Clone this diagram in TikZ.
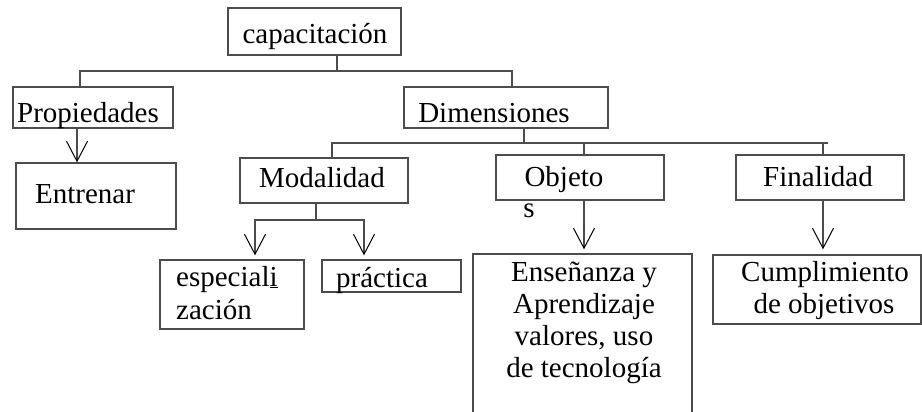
\documentclass[tikz,border=0pt]{standalone}
\usepackage{fontspec}
\setmainfont{Liberation Serif}
\usetikzlibrary{arrows.meta}

\begin{document}
\begin{tikzpicture}[x=1pt, y=-1pt, font=\fontsize{29}{32}\selectfont,
	caja/.style={draw=black!70, line width=1.4pt, inner sep=0pt},
	linea/.style={draw=black!70, line width=1.4pt},
	flecha/.style={linea, -{Straight Barb[length=20pt, width=21pt, line width=1pt, color=black]}},
	texto/.style={anchor=base, inner sep=0pt}]
	\useasboundingbox (0,0) rectangle (922,412);
	\clip (0,0) rectangle (922,412);
	% cajas
	\node[caja, minimum width=173, minimum height=47] (cap) at (314.5,31.5) {};
	\node[caja, minimum width=160, minimum height=41] (prop) at (93,107.5) {};
	\node[caja, minimum width=204, minimum height=41] (dim) at (506,107.5) {};
	\node[caja, minimum width=160, minimum height=66] (entr) at (96,196) {};
	\node[caja, minimum width=168, minimum height=45] (moda) at (324,180.5) {};
	\node[caja, minimum width=168, minimum height=45] (obj) at (580,177.5) {};
	\node[caja, minimum width=168, minimum height=45] (fin) at (820,177.5) {};
	\node[caja, minimum width=144, minimum height=69] (espe) at (232,294.5) {};
	\node[caja, minimum width=139, minimum height=32] (prac) at (391.5,276) {};
	\node[caja, minimum width=219, minimum height=176] (ens) at (582.5,342) {};
	\node[caja, minimum width=208, minimum height=69] (cump) at (817,289.5) {};
	% textos
	\node[texto] (capT) at (315,44) {capacitación};
	\node[texto] (propT) at (88,123) {Propiedades};
	\node[texto] (dimT) at (494,122) {Dimensiones};
	\node[texto] (entrT) at (85,203) {Entrenar};
	\node[texto] (modaT) at (322,187) {Modalidad};
	\node[texto] (objT) at (564,186) {Objeto};
	\node[texto] (objS) at (529,217) {s};
	\node[texto] (finT) at (818,186) {Finalidad};
	\node[texto, anchor=base west] (espeA) at (176,286) {especial\underline{i}};
	\node[texto, anchor=base west] (espeB) at (176,319) {zación};
	\node[texto, anchor=base west] (pracT) at (336,287) {práctica};
	\foreach \t [count=\i] in {Enseñanza y, Aprendizaje, {valores, uso}, de tecnología}
	\node[texto] (ens\i) at (584,249+32*\i) {\t};
	\node[texto] (cumpA) at (825,281) {Cumplimiento};
	\node[texto] (cumpB) at (824,313) {de objetivos};
	% conectores
	\coordinate (b1) at (337,71);
	\coordinate (b2) at (524,143);
	\coordinate (b2e) at (828,143);
	\coordinate (b3) at (316,220);
	\draw[linea] (cap.south -| b1) -- (b1);
	\draw[linea] (prop.north -| 80,0) |- (b1) -| (dim.north -| 512,0);
	\draw[flecha] (prop.south -| 77,0) -- (entr.north -| 77,0);
	\draw[linea] (dim.south -| b2) -- (b2);
	\draw[linea] (moda.north -| 332,0) |- (b2e);
	\draw[linea] (obj.north -| 584,0) -- ++(0,-12);
	\draw[linea] (fin.north -| 823,0) -- ++(0,-12);
	\draw[linea] (moda.south -| b3) -- (b3);
	\draw[flecha, shorten >=4pt] (b3) -| (espe.north -| 255,0);
	\draw[flecha, shorten >=4pt] (b3) -| (prac.north -| 364,0);
	\draw[flecha, shorten >=4pt] (obj.south -| 584,0) -- (ens.north -| 584,0);
	\draw[flecha, shorten >=5pt] (fin.south -| 823,0) -- (cump.north -| 823,0);
\end{tikzpicture}
\end{document}
